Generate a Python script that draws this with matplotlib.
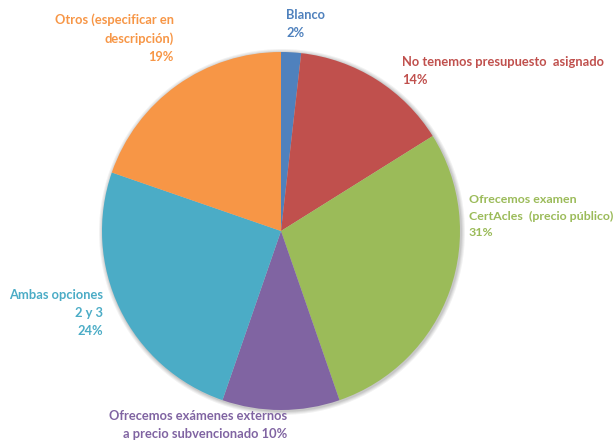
import matplotlib
matplotlib.use("Agg")
import matplotlib.pyplot as plt
from matplotlib.patches import Circle

categories = ["Blanco", "No tenemos presupuesto  asignado",
              "Ofrecemos examen CertAcles  (precio público)",
              "Ofrecemos exámenes externos a precio subvencionado",
              "Ambas opciones 2 y 3", "Otros (especificar en descripción)"]
values = [1.8, 14.3, 28.6, 10.6, 25.0, 19.7]
pct_labels = ["2%", "14%", "31%", "10%", "24%", "19%"]
colors = ["#4F81BD", "#C0504D", "#9BBB59", "#8064A2", "#4BACC6", "#F79646"]

W, H = 616, 440
fig = plt.figure(figsize=(W / 100, H / 100), dpi=100)
ax = fig.add_axes([0, 0, 1, 1])

cx, cy, R = 281, H - 231, 179

# soft shadow
for i, a in enumerate([0.05, 0.05, 0.06, 0.07]):
    ax.add_patch(Circle((cx + 1, cy - 1), R + 4 - i, color="#000000", alpha=a, lw=0, zorder=0))

ax.pie(values, colors=colors, startangle=90, counterclock=False,
       center=(cx, cy), radius=R, frame=True,
       wedgeprops=dict(linewidth=0, antialiased=True))

ax.set_xlim(0, W)
ax.set_ylim(0, H)
ax.set_aspect("equal")
ax.axis("off")

fam = ["Lato", "DejaVu Sans"]
fs = 9.3
ls = 1.62

def lab(x, y, s, c, ha, size=fs):
    ax.text(x, H - y, s, color=c, ha=ha, va="top", fontsize=size, fontweight="bold",
            family=fam, linespacing=ls, zorder=5)

lab(174, 13, "Otros (especificar en\ndescripción)\n" + pct_labels[5], colors[5], "right")
lab(286, 9, "Blanco\n" + pct_labels[0], colors[0], "left")
lab(402, 56, "No tenemos presupuesto  asignado\n" + pct_labels[1], colors[1], "left")
lab(469, 194, "Ofrecemos examen\nCertAcles  (precio público)\n" + pct_labels[2], colors[2], "left", 8.9)
lab(103, 289, "Ambas opciones\n2 y 3\n" + pct_labels[4], colors[4], "right")
lab(287, 410, "Ofrecemos exámenes externos\na precio subvencionado " + pct_labels[3], colors[3], "right")

fig.savefig("out.png", dpi=100)
